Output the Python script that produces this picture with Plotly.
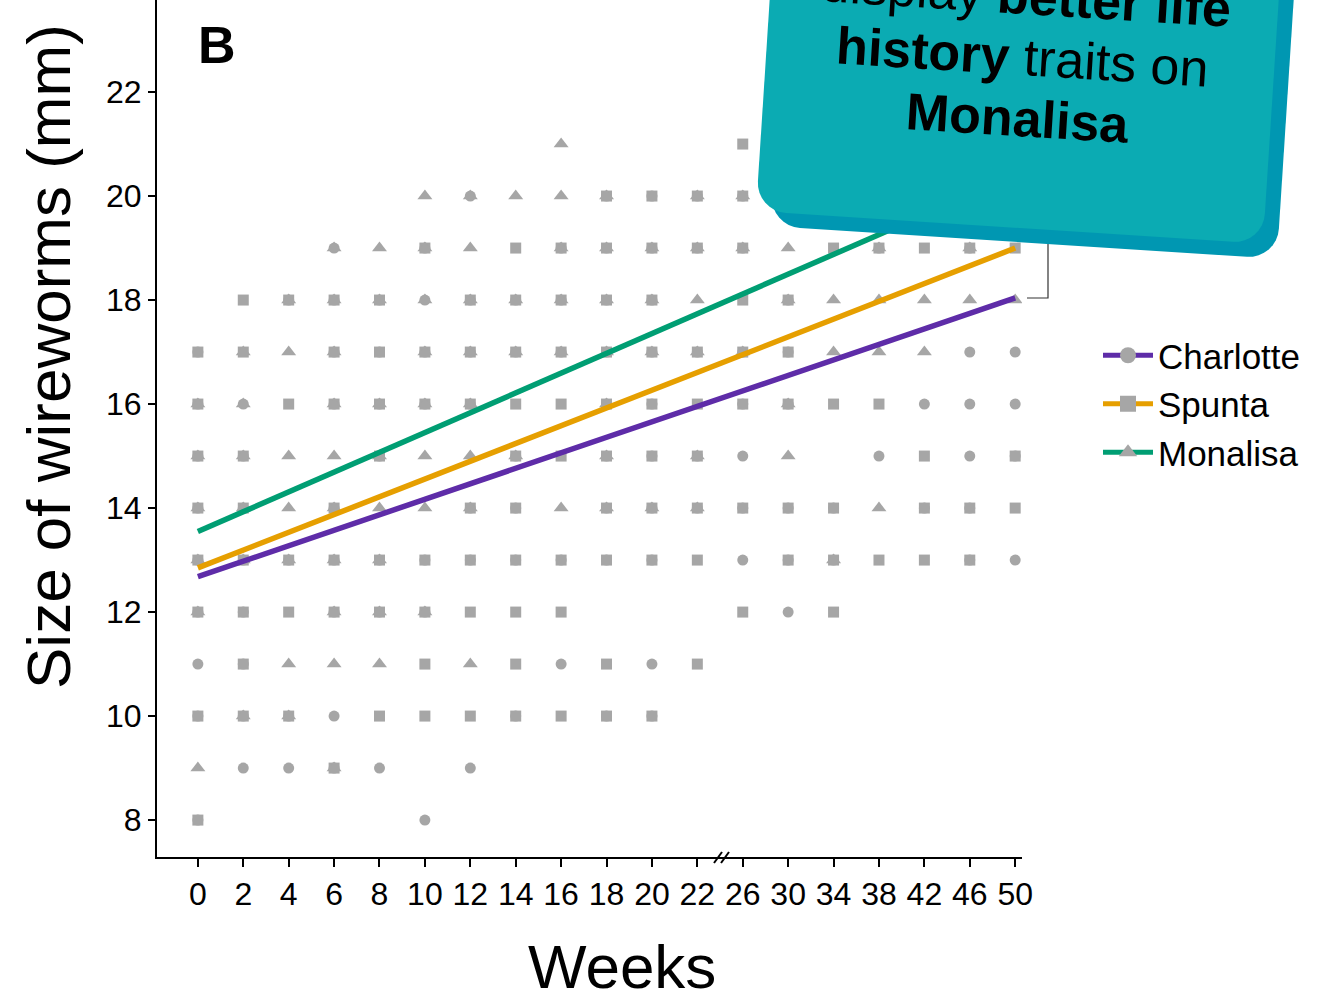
import math
import plotly.graph_objects as go

# ---------------- data ----------------
week_labels = ["0", "2", "4", "6", "8", "10", "12", "14", "16", "18", "20", "22",
               "26", "30", "34", "38", "42", "46", "50"]
varieties = ["Charlotte", "Spunta", "Monalisa"]
line_colors = ["#5E2CA8", "#E69F00", "#009E73"]
marker_symbols = ["circle", "square", "triangle-up"]

# fitted lines: size at first (week 0) and last (week 50) tick
fit_start = [12.68, 12.85, 13.55]
fit_end = [18.04, 19.00, 20.40]

# observed sizes (mm): one string per size, one char per week column
# c=Charlotte s=Spunta t=Monalisa x=C+S y=S+M z=C+M a=all three
obs_sizes = [21, 20, 19, 18, 17, 16, 15, 14, 13, 12, 11, 10, 9, 8]
obs_rows = [
    "........t...s......",
    ".....tzttaxaa......",
    "...ztatsaaaaatsasas",
    ".saaazaaaaatsattttt",
    "xytaxaaaaaaaaxtttcc",
    "azsaaaassaxsxassccc",
    "aattattasaxact.cscx",
    "aatattaxtaaaxxxtxxs",
    "aaaaaxxxxxxscxassxc",
    "axsaaasss...scs....",
    "cxtttstscscs.......",
    "xaacsssxsxx........",
    "tccac.c............",
    "x....c.............",
]
code_members = {"c": "C", "s": "S", "t": "M", "x": "CS", "y": "SM", "z": "CM", "a": "CSM"}
var_codes = ["C", "S", "M"]

# ---------------- layout helpers ----------------
W, H = 1319, 1002
L_, R_, T_, B_ = 157, 297, 0, 145
PW, PH = W - L_ - R_, H - T_ - B_


def px(x):
    return (x - L_) / PW


def py(y):
    return (H - B_ - y) / PH


def rounded_rect_path(blx, bly, w, h, r, ang_deg):
    a = math.radians(ang_deg)
    ux, uy = math.cos(a), math.sin(a)          # along width (screen)
    vx, vy = math.sin(a), -math.cos(a)         # "up" (screen)

    def to_screen(lx, ly):
        return (blx + lx * ux + ly * vx, bly + lx * uy + ly * vy)

    pts = []
    corners = [(r, r, 180, 270), (w - r, r, 270, 360), (w - r, h - r, 0, 90), (r, h - r, 90, 180)]
    for cx, cy, a0, a1 in corners:
        for k in range(9):
            t = math.radians(a0 + (a1 - a0) * k / 8)
            pts.append(to_screen(cx + r * math.cos(t), cy + r * math.sin(t)))
    d = "M " + " L ".join(f"{px(x):.5f},{py(y):.5f}" for x, y in pts) + " Z"
    return d


fig = go.Figure()

# scatter of observations
for vi, v in enumerate(varieties):
    xs, ys = [], []
    for size, row in zip(obs_sizes, obs_rows):
        for col, ch in enumerate(row):
            if ch != "." and var_codes[vi] in code_members[ch]:
                xs.append(col)
                ys.append(size)
    fig.add_trace(go.Scatter(
        x=xs, y=ys, mode="markers", showlegend=False, hoverinfo="skip",
        marker=dict(symbol=marker_symbols[vi], color="#A6A6A6",
                    size=[11, 11, 13][vi], line=dict(width=0)),
    ))

# fitted lines
for vi, v in enumerate(varieties):
    fig.add_trace(go.Scatter(
        x=[0, len(week_labels) - 1], y=[fit_start[vi], fit_end[vi]],
        mode="lines", showlegend=False,
        line=dict(color=line_colors[vi], width=5.5),
    ))

# legend entries
for vi, v in enumerate(varieties):
    fig.add_trace(go.Scatter(
        x=[None], y=[None], mode="lines+markers", name=v,
        line=dict(color=line_colors[vi], width=5),
        marker=dict(symbol=marker_symbols[vi], color="#A6A6A6", size=16),
    ))

shapes = []
# axis break marks
for off in (0, 7):
    shapes.append(dict(type="line", xref="paper", yref="paper",
                       x0=px(714 + off), y0=py(863), x1=px(722 + off), y1=py(852),
                       line=dict(color="black", width=2), layer="above"))
# bracket
shapes.append(dict(type="path", xref="paper", yref="paper",
                   path=f"M {px(1048)},{py(235)} L {px(1048)},{py(298)} L {px(1027)},{py(298)}",
                   line=dict(color="#333333", width=1.2), layer="above"))
# callout box: shadow then face
shapes.append(dict(type="path", xref="paper", yref="paper",
                   path=rounded_rect_path(770, 226, 508, 340, 30, 3.7),
                   fillcolor="#0097B2", line=dict(width=0), layer="above"))
shapes.append(dict(type="path", xref="paper", yref="paper",
                   path=rounded_rect_path(756, 211, 508, 340, 30, 3.7),
                   fillcolor="#0BABB3", line=dict(width=0), layer="above"))

font_family = "Liberation Sans, Arial, sans-serif"


def ann(text, x, y, size, angle=0):
    return dict(text=text, xref="paper", yref="paper", x=px(x), y=py(y),
                xanchor="center", yanchor="middle", showarrow=False, textangle=angle,
                font=dict(size=size, color="black", family=font_family))


annotations = [
    ann("<b>B</b>", 217, 45, 52),
    ann("display <b>better life</b>", 1026, -4, 52, 3.6),
    ann("<b>history</b> traits on", 1022, 57, 52, 3.6),
    ann("<b>Monalisa</b>", 1018, 118, 52, 3.6),
    ann("Size of wireworms (mm)", 48, 357, 62, -90),
    ann("Weeks", 622, 966, 62),
]

fig.update_layout(
    width=W, height=H,
    margin=dict(l=L_, r=R_, t=T_, b=B_),
    paper_bgcolor="white", plot_bgcolor="white",
    font=dict(family=font_family, color="black"),
    shapes=shapes, annotations=annotations,
    legend=dict(x=px(1098), y=py(326), xanchor="left", yanchor="top",
                font=dict(size=35, color="black", family=font_family),
                bgcolor="rgba(0,0,0,0)", itemwidth=50),
)
fig.update_xaxes(
    range=[-0.9, 18.15], tickmode="array",
    tickvals=list(range(len(week_labels))), ticktext=week_labels,
    showline=True, linecolor="black", linewidth=2,
    ticks="outside", ticklen=8, tickwidth=2, tickcolor="black",
    showgrid=False, zeroline=False,
    tickfont=dict(size=32, family="Liberation Sans Narrow, Liberation Sans, Arial", color="black"),
)
fig.update_yaxes(
    range=[7.29, 23.77], tickmode="array", tickvals=list(range(8, 23, 2)),
    showline=True, linecolor="black", linewidth=2,
    ticks="outside", ticklen=7, tickwidth=2, tickcolor="black",
    showgrid=False, zeroline=False,
    tickfont=dict(size=32, color="black"),
)

fig.write_html("out.html")
